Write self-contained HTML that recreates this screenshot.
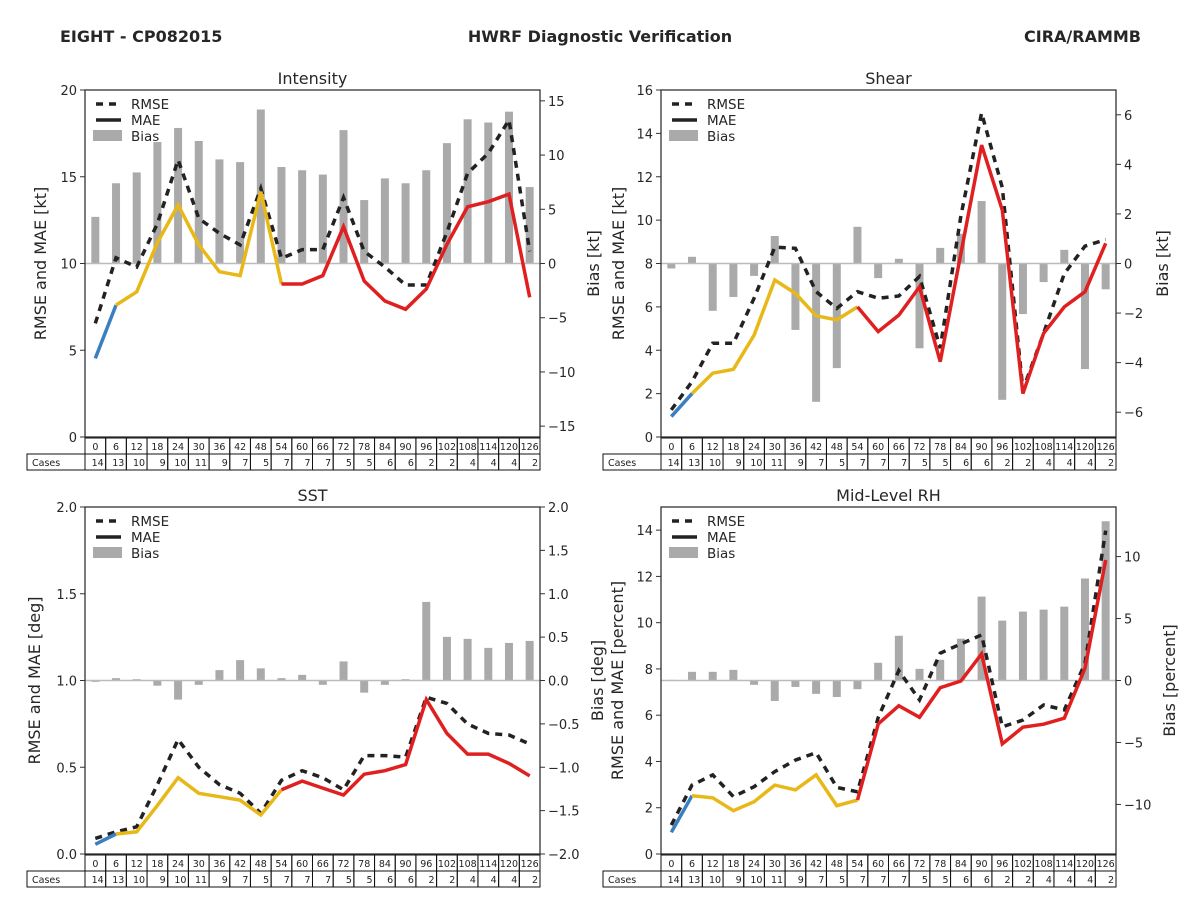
<!DOCTYPE html>
<html><head><meta charset="utf-8">
<style>
body{margin:0;background:#fff;}
svg{display:block;font-family:"DejaVu Sans","Liberation Sans",sans-serif;}
</style></head>
<body>
<svg id="chart" width="1200" height="900" viewBox="0 0 1200 900">
<text x="60" y="42" font-size="16" font-weight="bold" fill="#262626">EIGHT - CP082015</text>
<text x="600" y="42" font-size="16" font-weight="bold" fill="#262626" text-anchor="middle">HWRF Diagnostic Verification</text>
<text x="1141" y="42" font-size="16" font-weight="bold" fill="#262626" text-anchor="end">CIRA/RAMMB</text>
</svg>
<script>
const hours=[0,6,12,18,24,30,36,42,48,54,60,66,72,78,84,90,96,102,108,114,120,126];
const cases=[14,13,10,9,10,11,9,7,5,7,7,7,5,5,6,6,2,2,4,4,4,2];

const intRmse=[6.55,10.33,9.8,12.3,15.97,12.6,11.74,11.07,14.33,10.3,10.8,10.8,13.8,10.7,9.8,8.76,8.76,11.8,15.2,16.35,18.27,10.7];
const intMae=[4.53,7.6,8.37,11.2,13.37,11.07,9.53,9.3,14.14,8.82,8.82,9.3,12.12,8.99,7.84,7.36,8.53,11.1,13.27,13.56,14.0,8.05];
const intBias=[4.3,7.4,8.4,11.2,12.5,11.3,9.6,9.35,14.2,8.9,8.6,8.2,12.3,5.85,7.85,7.4,8.6,11.1,13.3,13.0,14.0,7.05];

const shrRmse=[1.25,2.55,4.32,4.32,6.4,8.75,8.7,6.7,5.93,6.7,6.4,6.5,7.4,4.1,10.2,14.94,11.5,2.17,4.78,7.53,8.8,9.1];
const shrMae=[0.94,2.0,2.94,3.12,4.7,7.24,6.62,5.59,5.4,6.0,4.86,5.62,6.92,3.47,8.46,13.46,10.46,2.0,4.78,6.0,6.7,8.93];
const shrBias=[-0.2,0.27,-1.91,-1.35,-0.5,1.11,-2.68,-5.58,-4.22,1.48,-0.59,0.19,-3.42,0.63,1.2,2.52,-5.5,-2.04,-0.75,0.55,-4.26,-1.04];

const sstRmse=[0.09,0.128,0.157,0.40,0.66,0.50,0.40,0.35,0.235,0.425,0.48,0.44,0.37,0.567,0.567,0.558,0.903,0.868,0.749,0.695,0.686,0.634];
const sstMae=[0.056,0.115,0.128,0.28,0.44,0.35,0.33,0.31,0.225,0.37,0.42,0.38,0.34,0.46,0.48,0.515,0.89,0.695,0.576,0.576,0.522,0.45];
const sstBias=[-0.016,0.027,0.015,-0.06,-0.22,-0.05,0.12,0.235,0.14,0.027,0.065,-0.05,0.22,-0.14,-0.05,0.015,0.906,0.503,0.48,0.376,0.433,0.456];

const rhRmse=[1.25,2.98,3.42,2.48,2.91,3.56,4.06,4.38,2.88,2.69,5.9,7.93,6.66,8.68,9.08,9.47,5.5,5.79,6.44,6.23,8.24,13.98];
const rhMae=[0.94,2.52,2.43,1.87,2.26,2.98,2.77,3.42,2.09,2.33,5.62,6.41,5.91,7.19,7.48,8.65,4.76,5.48,5.61,5.87,8.03,12.71];
const rhBias=[0.05,0.7,0.7,0.86,-0.35,-1.65,-0.52,-1.08,-1.33,-0.7,1.43,3.61,0.94,1.67,3.37,6.77,4.83,5.56,5.72,5.96,8.23,12.85];

const intLeftTicks=[0,5,10,15,20];
const intRightTicks=[-15,-10,-5,0,5,10,15];
const shrLeftTicks=[0,2,4,6,8,10,12,14,16];
const shrRightTicks=[-6,-4,-2,0,2,4,6];
const sstLeftTicks=[0,0.5,1.0,1.5,2.0];
const sstRightTicks=[-2,-1.5,-1,-0.5,0,0.5,1,1.5,2];
const rhLeftTicks=[0,2,4,6,8,10,12,14];
const rhRightTicks=[-10,-5,0,5,10];

const NS='http://www.w3.org/2000/svg';
const svg=document.getElementById('chart');
function mk(tag,attrs,parent){const e=document.createElementNS(NS,tag);for(const k in attrs)e.setAttribute(k,attrs[k]);(parent||svg).appendChild(e);return e;}
function fmt(v,dec){let s=v.toFixed(dec);if(v<0)s='\u2212'+s.slice(1);return s;}

function panel(cfg){
  const g=mk('g',{});
  
  
  const x0=cfg.x,y0=cfg.y,w=455,h=347,n=hours.length,cw=w/n;
  const xs=i=>x0+cw*(i+0.5);
  const yl=v=>y0+h-(v-0)/cfg.lmax*h;
  const yr=v=>y0+h-(v-cfg.rmin)/(cfg.rmax-cfg.rmin)*h;
  const t=mk('text',{x:x0+w/2,y:y0-6,'font-size':16,'text-anchor':'middle',fill:'#262626'},g);
  t.textContent=cfg.title;
  
  
  cfg.bias.forEach((b,i)=>{
    const ya=yr(0),yb=yr(b);
    const r=mk('rect',{x:xs(i)-4,y:Math.min(ya,yb),width:8,height:Math.abs(yb-ya),fill:'#aaaaaa'},g);
    
    
  });
  const zl=mk('line',{x1:x0,x2:x0+w,y1:yr(0),y2:yr(0),stroke:'#bbbbbb','stroke-width':1.5},g);
  
  
  const rp=cfg.rmse.map((v,i)=>xs(i).toFixed(1)+','+yl(v).toFixed(1)).join(' ');
  const rl=mk('polyline',{points:rp,fill:'none',stroke:'#222','stroke-width':3.5,'stroke-dasharray':'7,6'},g);
  
  
  const groups=[[0,1,'#3a7fc0','blue'],[1,9,'#e8b818','yellow'],[9,n-1,'#e02020','red']];
  groups.forEach(gr=>{
    const pts=[];for(let i=gr[0];i<=gr[1];i++)pts.push(xs(i).toFixed(1)+','+yl(cfg.mae[i]).toFixed(1));
    const p=mk('polyline',{points:pts.join(' '),fill:'none',stroke:gr[2],'stroke-width':3.5,'stroke-linejoin':'miter'},g);
    
    
  });
  const bd=mk('rect',{x:x0,y:y0,width:w,height:h,fill:'none',stroke:'#333','stroke-width':1.3},g);
  
  
  cfg.lt.forEach(v=>{
    const y=yl(v);
    mk('line',{x1:x0-5,x2:x0,y1:y,y2:y,stroke:'#333','stroke-width':1},g);
    const tx=mk('text',{x:x0-8,y:y+5,'font-size':13,'text-anchor':'end',fill:'#262626'},g);
    tx.textContent=fmt(v,cfg.ldec);
    
    
  });
  cfg.rt.forEach(v=>{
    const y=yr(v);
    mk('line',{x1:x0+w,x2:x0+w+5,y1:y,y2:y,stroke:'#333','stroke-width':1},g);
    const tx=mk('text',{x:x0+w+8,y:y+5,'font-size':13,fill:'#262626'},g);
    tx.textContent=fmt(v,cfg.rdec);
    
    
  });
  const ll=mk('text',{transform:`translate(${cfg.llx},${y0+h/2}) rotate(-90)`,'font-size':16,'text-anchor':'middle',fill:'#262626'},g);
  ll.textContent=cfg.ylab;
  
  
  const rl2=mk('text',{transform:`translate(${cfg.rlx},${y0+h/2}) rotate(-90)`,'font-size':16,'text-anchor':'middle',fill:'#262626'},g);
  rl2.textContent=cfg.rlab;
  
  
  const lg=mk('g',{},g);
  
  
  const lx=x0+11,ly=y0+14;
  mk('line',{x1:lx,x2:lx+25,y1:ly,y2:ly,stroke:'#222','stroke-width':3.5,'stroke-dasharray':'7,6'},lg);
  mk('line',{x1:lx,x2:lx+25,y1:ly+16,y2:ly+16,stroke:'#222','stroke-width':3.5},lg);
  mk('rect',{x:lx-3,y:ly+26,width:29,height:11,fill:'#aaaaaa'},lg);
  [['RMSE',0],['MAE',16],['Bias',32]].forEach(a=>{
    const e=mk('text',{x:lx+35,y:ly+5+a[1],'font-size':13.5,fill:'#262626'},lg);
    e.textContent=a[0];
    
    
  });
  const tb=mk('g',{},g);
  
  
  const ty=y0+h+1;
  mk('rect',{x:x0-58,y:ty+16,width:58,height:16,fill:'none',stroke:'#111','stroke-width':1},tb);
  const cl=mk('text',{x:x0-53,y:ty+28,'font-size':9.5,fill:'#222'},tb);
  cl.textContent='Cases';
  hours.forEach((hr,i)=>{
    const cx=x0+cw*i;
    mk('rect',{x:cx,y:ty,width:cw,height:16,fill:'none',stroke:'#111','stroke-width':1},tb);
    mk('rect',{x:cx,y:ty+16,width:cw,height:16,fill:'none',stroke:'#111','stroke-width':1},tb);
    const a=mk('text',{x:cx+cw/2,y:ty+12,'font-size':9.5,'text-anchor':'middle',fill:'#222'},tb);
    a.textContent=hr;
    const b=mk('text',{x:cx+cw-2,y:ty+28,'font-size':9.5,'text-anchor':'end',fill:'#222'},tb);
    b.textContent=cases[i];
  });
}
panel({key:'intensity',title:'Intensity',x:85,y:90,lmax:20,rmin:-16,rmax:16,lt:intLeftTicks,rt:intRightTicks,ldec:0,rdec:0,rmse:intRmse,mae:intMae,bias:intBias,ylab:'RMSE and MAE [kt]',rlab:'Bias [kt]',llx:46,rlx:599});
panel({key:'shear',title:'Shear',x:661,y:90,lmax:16,rmin:-7,rmax:7,lt:shrLeftTicks,rt:shrRightTicks,ldec:0,rdec:0,rmse:shrRmse,mae:shrMae,bias:shrBias,ylab:'RMSE and MAE [kt]',rlab:'Bias [kt]',llx:624,rlx:1168});
panel({key:'sst',title:'SST',x:85,y:507,lmax:2,rmin:-2,rmax:2,lt:sstLeftTicks,rt:sstRightTicks,ldec:1,rdec:1,rmse:sstRmse,mae:sstMae,bias:sstBias,ylab:'RMSE and MAE [deg]',rlab:'Bias [deg]',llx:40,rlx:603});
panel({key:'midlevel-rh',title:'Mid-Level RH',x:661,y:507,lmax:15,rmin:-14,rmax:14,lt:rhLeftTicks,rt:rhRightTicks,ldec:0,rdec:0,rmse:rhRmse,mae:rhMae,bias:rhBias,ylab:'RMSE and MAE [percent]',rlab:'Bias [percent]',llx:623,rlx:1175});
</script>
</body></html>
